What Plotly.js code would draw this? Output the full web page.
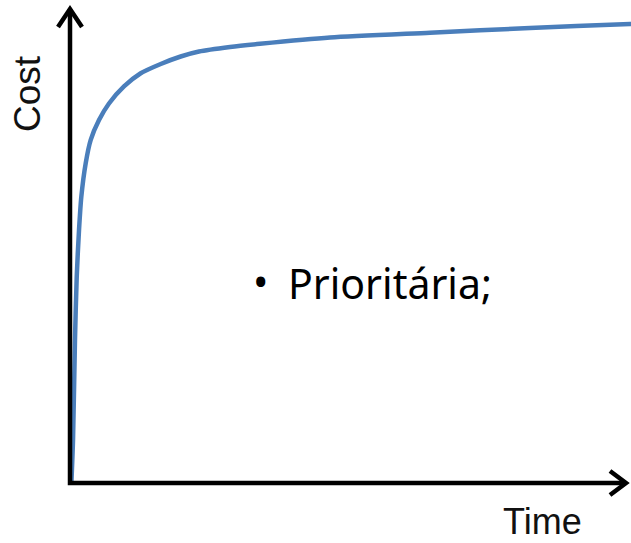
<!DOCTYPE html>
<html>
<head>
<meta charset="utf-8">
<script src="https://cdn.plot.ly/plotly-3.0.1.min.js"></script>
<style>html,body{margin:0;padding:0;background:#fff;}#chart{width:631px;height:543px;}</style>
</head>
<body>
<div id="chart"></div>
<script>
// Data (time units, cost units)
const time = [0.025, 0.054, 0.089, 0.120, 0.161, 0.202, 0.280, 0.370, 0.518, 0.696, 0.964, 1.263, 1.620, 1.977, 2.304, 2.857, 3.393, 4.643, 6.429, 8.214, 10.0, 10.1];
const cost = [0, 9.35, 31.1, 44.8, 55.0, 62.2, 69.5, 74.6, 78.9, 82.5, 86.2, 89.07, 91.09, 92.72, 93.8, 94.78, 95.48, 96.85, 97.9, 98.9, 99.8, 99.85];
const xLabel = "Time";
const yLabel = "Cost";
const noteBullet = "•";
const noteText = "Prioritária;";

const W = 631, H = 543;
const X0 = 70, Y0 = 483, SX = 56, SY = 4.6;
const xRange = [-X0 / SX, (W - X0) / SX];
const yRange = [-(H - Y0) / SY, Y0 / SY];
// pixel -> data helpers for decorations
const dx = p => (p - X0) / SX;
const dy = p => (Y0 - p) / SY;

const axisPath = `M ${dx(70)} ${dy(9)} L ${dx(70)} ${dy(483)} L ${dx(626)} ${dy(483)}`;
const upHead = `M ${dx(58)} ${dy(27)} L ${dx(70)} ${dy(9)} L ${dx(82)} ${dy(27)}`;
const rightHead = `M ${dx(610)} ${dy(471)} L ${dx(626)} ${dy(483)} L ${dx(610)} ${dy(495)}`;

const trace = {
  x: time, y: cost, type: 'scatter', mode: 'lines',
  line: {color: '#4a7ebb', width: 4.5, shape: 'spline', smoothing: 0.7},
  hoverinfo: 'skip', showlegend: false, cliponaxis: true
};

const layout = {
  width: W, height: H,
  margin: {l: 0, r: 0, t: 0, b: 0, pad: 0},
  paper_bgcolor: '#ffffff', plot_bgcolor: '#ffffff',
  xaxis: {range: xRange, visible: false, fixedrange: true},
  yaxis: {range: yRange, visible: false, fixedrange: true},
  shapes: [
    {type: 'path', path: axisPath, xref: 'x', yref: 'y', line: {color: '#000', width: 4.5}},
    {type: 'path', path: upHead, xref: 'x', yref: 'y', line: {color: '#000', width: 4.5}},
    {type: 'path', path: rightHead, xref: 'x', yref: 'y', line: {color: '#000', width: 4.5}}
  ],
  annotations: [
    {text: yLabel, textangle: -90, x: dx(27), y: dy(94), xref: 'x', yref: 'y', showarrow: false,
     xanchor: 'center', yanchor: 'middle', font: {family: 'Liberation Sans, Arial, sans-serif', size: 37, color: '#111'}},
    {text: xLabel, x: dx(542), y: dy(521), xref: 'x', yref: 'y', showarrow: false,
     xanchor: 'center', yanchor: 'middle', font: {family: 'Liberation Sans, Arial, sans-serif', size: 36, color: '#111'}},
    {text: noteBullet, x: dx(260), y: dy(281), xref: 'x', yref: 'y', showarrow: false,
     xanchor: 'center', yanchor: 'middle', font: {family: 'Noto Sans, sans-serif', size: 41, color: '#000'}},
    {text: noteText, x: dx(286), y: dy(283), xref: 'x', yref: 'y', showarrow: false,
     xanchor: 'left', yanchor: 'middle', font: {family: 'Noto Sans, sans-serif', size: 41, color: '#000'}}
  ]
};

Plotly.newPlot('chart', [trace], layout, {displayModeBar: false, staticPlot: true});
</script>
</body>
</html>
